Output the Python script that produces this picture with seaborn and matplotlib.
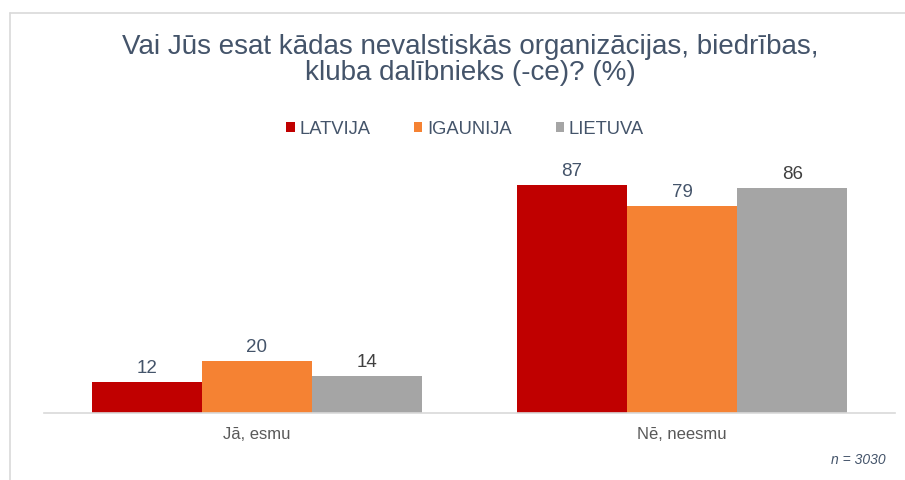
import matplotlib
matplotlib.use("Agg")
import matplotlib.pyplot as plt
import seaborn as sns
import pandas as pd
from matplotlib.patches import Patch

categories = ["Jā, esmu", "Nē, neesmu"]
series = ["LATVIJA", "IGAUNIJA", "LIETUVA"]
latvija = [12, 87]
igaunija = [20, 79]
lietuva = [14, 86]
colors = ["#C00000", "#F58233", "#A5A5A5"]
label_colors = ["#44546A", "#44546A", "#404040"]

rows = []
for s, vals in zip(series, [latvija, igaunija, lietuva]):
    for c, v in zip(categories, vals):
        rows.append({"cat": c, "series": s, "val": v})
df = pd.DataFrame(rows)

sns.set_style("white")
plt.rcParams["font.family"] = ["Liberation Sans", "DejaVu Sans"]

fig = plt.figure(figsize=(9.05, 4.8), dpi=100)
ax = fig.add_axes([44/905, (480-413)/480, (895-44)/905, (413-151)/480])

sns.barplot(data=df, x="cat", y="val", hue="series", palette=colors,
            width=330/425, ax=ax, legend=False, saturation=1, linewidth=0)

for i, cont in enumerate(ax.containers):
    ax.bar_label(cont, padding=3.5, fontsize=13.5, color=label_colors[i])

ax.set_ylim(0, 100)
ax.set_xlim(-0.5, 1.5)
ax.set_yticks([])
ax.set_xlabel("")
ax.set_ylabel("")
for sp in ["top", "right", "left"]:
    ax.spines[sp].set_visible(False)
ax.spines["bottom"].set_color("#D9D9D9")
ax.spines["bottom"].set_linewidth(1.2)
ax.tick_params(axis="x", length=0, pad=10, labelsize=12, labelcolor="#595959")

fig.text(470/905, 1-60/480, "Vai Jūs esat kādas nevalstiskās organizācijas, biedrības,\nkluba dalībnieks (-ce)? (%)",
         ha="center", va="center", fontsize=20, color="#44546A", linespacing=1.0)

handles = [Patch(facecolor=c, edgecolor="none") for c in colors]
fig.legend(handles, series, loc="center", bbox_to_anchor=(465/905, 1-129/480), ncol=3,
           frameon=False, fontsize=13.2, labelcolor="#44546A", handlelength=0.45,
           handleheight=0.45, handletextpad=0.25, columnspacing=2.4)

fig.text(886/905, 1-460/480, "n = 3030", ha="right", va="center", fontsize=10,
         style="italic", color="#44546A")

fig.add_artist(plt.Line2D([9.5/905, 9.5/905], [0, 1-13/480], color="#D9D9D9", lw=1.2, transform=fig.transFigure))
fig.add_artist(plt.Line2D([9.5/905, 1], [1-13/480, 1-13/480], color="#D9D9D9", lw=1.2, transform=fig.transFigure))

fig.savefig("out.png", dpi=100)
